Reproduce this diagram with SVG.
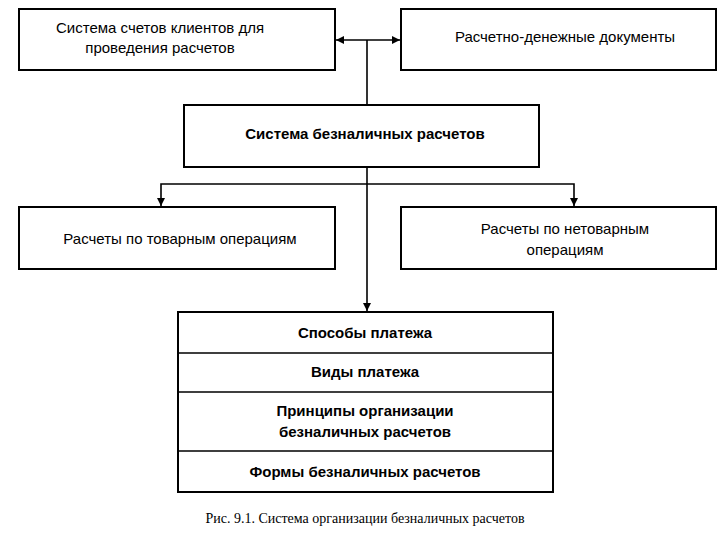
<svg xmlns="http://www.w3.org/2000/svg" width="721" height="536" viewBox="0 0 721 536">
<style>
.b{fill:#fff;stroke:#000;stroke-width:2}
.t{font-family:"Liberation Sans",Arial,sans-serif;font-size:15px;fill:#000;text-anchor:middle}
.tb{font-family:"Liberation Sans",Arial,sans-serif;font-size:15px;font-weight:bold;fill:#000;text-anchor:middle}
.c{fill:none;stroke:#000;stroke-width:1.6}
</style>
<defs>
<marker id="a" viewBox="0 0 10 10" refX="10" refY="5" markerWidth="5" markerHeight="5" orient="auto-start-reverse"><path d="M0,0L10,5L0,10z" fill="#000"/></marker>
</defs>
<rect width="721" height="536" fill="#fff"/>
<g id="connectors">
<path class="c" d="M336,40H400" marker-start="url(#a)" marker-end="url(#a)"/>
<path class="c" d="M367,40V105"/>
<path class="c" d="M367,167V311" marker-end="url(#a)"/>
<path class="c" d="M161,206V184H574V206" marker-start="url(#a)" marker-end="url(#a)"/>
</g>
<g id="n1"><rect class="b" x="19" y="9" width="316" height="61"/><text class="t" x="160" y="33">Система счетов клиентов для</text><text class="t" x="160" y="53">проведения расчетов</text></g>
<g id="n2"><rect class="b" x="401" y="9" width="315" height="61"/><text class="t" x="565" y="42">Расчетно-денежные документы</text></g>
<g id="n3"><rect class="b" x="184" y="105" width="355" height="62"/><text class="tb" x="365" y="139">Система безналичных расчетов</text></g>
<g id="n4"><rect class="b" x="19" y="207" width="316" height="62"/><text class="t" x="180" y="244">Расчеты по товарным операциям</text></g>
<g id="n5"><rect class="b" x="401" y="207" width="315" height="62"/><text class="t" x="565" y="234">Расчеты по нетоварным</text><text class="t" x="565" y="255">операциям</text></g>
<g id="n6">
<rect class="b" x="178" y="312" width="375" height="180"/>
<path class="c" d="M178,353H553M178,392H553M178,451H553"/>
<text class="tb" x="365" y="338">Способы платежа</text>
<text class="tb" x="365" y="377">Виды платежа</text>
<text class="tb" x="365" y="416">Принципы организации</text>
<text class="tb" x="365" y="437">безналичных расчетов</text>
<text class="tb" x="365" y="477">Формы безналичных расчетов</text>
</g>
<text x="365" y="523" font-family="Liberation Serif,serif" font-size="14" text-anchor="middle">Рис. 9.1. Система организации безналичных расчетов</text>
</svg>
